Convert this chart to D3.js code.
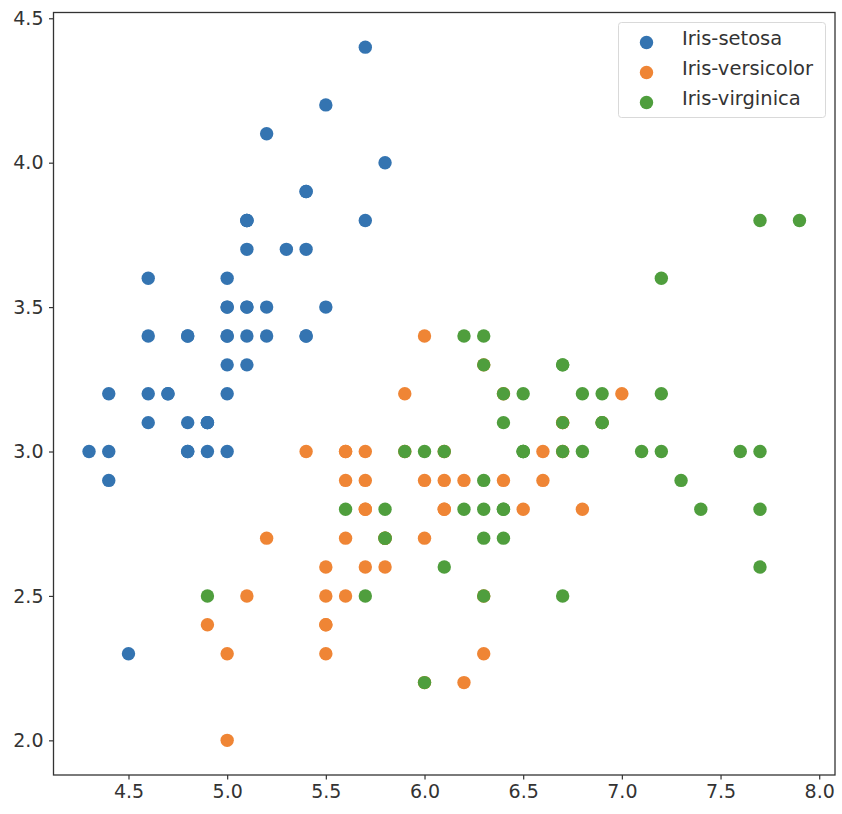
<!DOCTYPE html>
<html><head><meta charset="utf-8">
<script src="https://cdn.jsdelivr.net/npm/d3@7"></script>
<style>body{margin:0;background:#fff;} text{font-family:"DejaVu Sans",sans-serif;}</style>
</head><body>
<svg id="c" width="842" height="814"></svg>
<script>
const species = ["Iris-setosa","Iris-versicolor","Iris-virginica"];
const colors = ["#3474b1","#ef8535","#4f9e3d"];
const setosaLength = [5.1,4.9,4.7,4.6,5.0,5.4,4.6,5.0,4.4,4.9,5.4,4.8,4.8,4.3,5.8,5.7,5.4,5.1,5.7,5.1,5.4,5.1,4.6,5.1,4.8,5.0,5.0,5.2,5.2,4.7,4.8,5.4,5.2,5.5,4.9,5.0,5.5,4.9,4.4,5.1,5.0,4.5,4.4,5.0,5.1,4.8,5.1,4.6,5.3,5.0];
const setosaWidth  = [3.5,3.0,3.2,3.1,3.6,3.9,3.4,3.4,2.9,3.1,3.7,3.4,3.0,3.0,4.0,4.4,3.9,3.5,3.8,3.8,3.4,3.7,3.6,3.3,3.4,3.0,3.4,3.5,3.4,3.2,3.1,3.4,4.1,4.2,3.1,3.2,3.5,3.1,3.0,3.4,3.5,2.3,3.2,3.5,3.8,3.0,3.8,3.2,3.7,3.3];
const versicolorLength = [7.0,6.4,6.9,5.5,6.5,5.7,6.3,4.9,6.6,5.2,5.0,5.9,6.0,6.1,5.6,6.7,5.6,5.8,6.2,5.6,5.9,6.1,6.3,6.1,6.4,6.6,6.8,6.7,6.0,5.7,5.5,5.5,5.8,6.0,5.4,6.0,6.7,6.3,5.6,5.5,5.5,6.1,5.8,5.0,5.6,5.7,5.7,6.2,5.1,5.7];
const versicolorWidth  = [3.2,3.2,3.1,2.3,2.8,2.8,3.3,2.4,2.9,2.7,2.0,3.0,2.2,2.9,2.9,3.1,3.0,2.7,2.2,2.5,3.2,2.8,2.5,2.8,2.9,3.0,2.8,3.0,2.9,2.6,2.4,2.4,2.7,2.7,3.0,3.4,3.1,2.3,3.0,2.5,2.6,3.0,2.6,2.3,2.7,3.0,2.9,2.9,2.5,2.8];
const virginicaLength = [6.3,5.8,7.1,6.3,6.5,7.6,4.9,7.3,6.7,7.2,6.5,6.4,6.8,5.7,5.8,6.4,6.5,7.7,7.7,6.0,6.9,5.6,7.7,6.3,6.7,7.2,6.2,6.1,6.4,7.2,7.4,7.9,6.4,6.3,6.1,7.7,6.3,6.4,6.0,6.9,6.7,6.9,5.8,6.8,6.7,6.7,6.3,6.5,6.2,5.9];
const virginicaWidth  = [3.3,2.7,3.0,2.9,3.0,3.0,2.5,2.9,2.5,3.6,3.2,2.7,3.0,2.5,2.8,3.2,3.0,3.8,2.6,2.2,3.2,2.8,2.8,2.7,3.3,3.2,2.8,3.0,2.8,3.0,2.8,3.8,2.8,2.8,2.6,3.0,3.4,3.1,3.0,3.1,3.1,3.1,2.7,3.2,3.3,3.0,2.5,3.0,3.4,3.0];
const xTicks = [4.5,5.0,5.5,6.0,6.5,7.0,7.5,8.0];
const yTicks = [2.0,2.5,3.0,3.5,4.0,4.5];

const seriesX = [setosaLength, versicolorLength, virginicaLength];
const seriesY = [setosaWidth, versicolorWidth, virginicaWidth];

const svg = d3.select("#c");
const L = 53.5, R = 835, T = 12.5, B = 775;
const allX = seriesX.flat(), allY = seriesY.flat();
const xmin = d3.min(allX), xmax = d3.max(allX), ymin = d3.min(allY), ymax = d3.max(allY);
const mx = (xmax - xmin) * 0.05, my = (ymax - ymin) * 0.05;
const x = d3.scaleLinear().domain([xmin - mx, xmax + mx]).range([L, R]);
const y = d3.scaleLinear().domain([ymin - my, ymax + my]).range([B, T]);

const fmt = d3.format(".1f");
const gx = svg.append("g").attr("transform", `translate(0,${B})`)
  .call(d3.axisBottom(x).tickValues(xTicks).tickFormat(fmt).tickSize(4.5).tickPadding(5));
const gy = svg.append("g").attr("transform", `translate(${L},0)`)
  .call(d3.axisLeft(y).tickValues(yTicks).tickFormat(fmt).tickSize(4.5).tickPadding(5.5));
[gx, gy].forEach(g => {
  g.select(".domain").remove();
  g.selectAll("line").attr("stroke", "#333").attr("stroke-width", 1.2);
  g.selectAll("text").attr("fill", "#333").style("font-size", "19px").style("font-family", "DejaVu Sans");
});

// points
species.forEach((s, i) => {
  svg.append("g").selectAll("circle")
    .data(seriesX[i].map((v, j) => [v, seriesY[i][j]]))
    .join("circle")
    .attr("cx", d => x(d[0])).attr("cy", d => y(d[1]))
    .attr("r", 6.7).attr("fill", colors[i]);
});

// frame
svg.append("rect").attr("x", L).attr("y", T).attr("width", R - L).attr("height", B - T)
  .attr("fill", "none").attr("stroke", "#333").attr("stroke-width", 1.3);

// legend
const lg = svg.append("g");
lg.append("rect").attr("x", 618.5).attr("y", 22.5).attr("width", 207).attr("height", 95).attr("rx", 3)
  .attr("fill", "#fff").attr("fill-opacity", 0.8).attr("stroke", "#d9d9d9").attr("stroke-width", 1);
species.forEach((s, i) => {
  const yy = 38.5 + i * 30;
  lg.append("circle").attr("cx", 646.5).attr("cy", yy + 4).attr("r", 6.7).attr("fill", colors[i]);
  lg.append("text").attr("x", 682).attr("y", yy).attr("dy", "0.35em")
    .attr("fill", "#333").style("font-size", "19.5px").text(s);
});
</script>
</body></html>
